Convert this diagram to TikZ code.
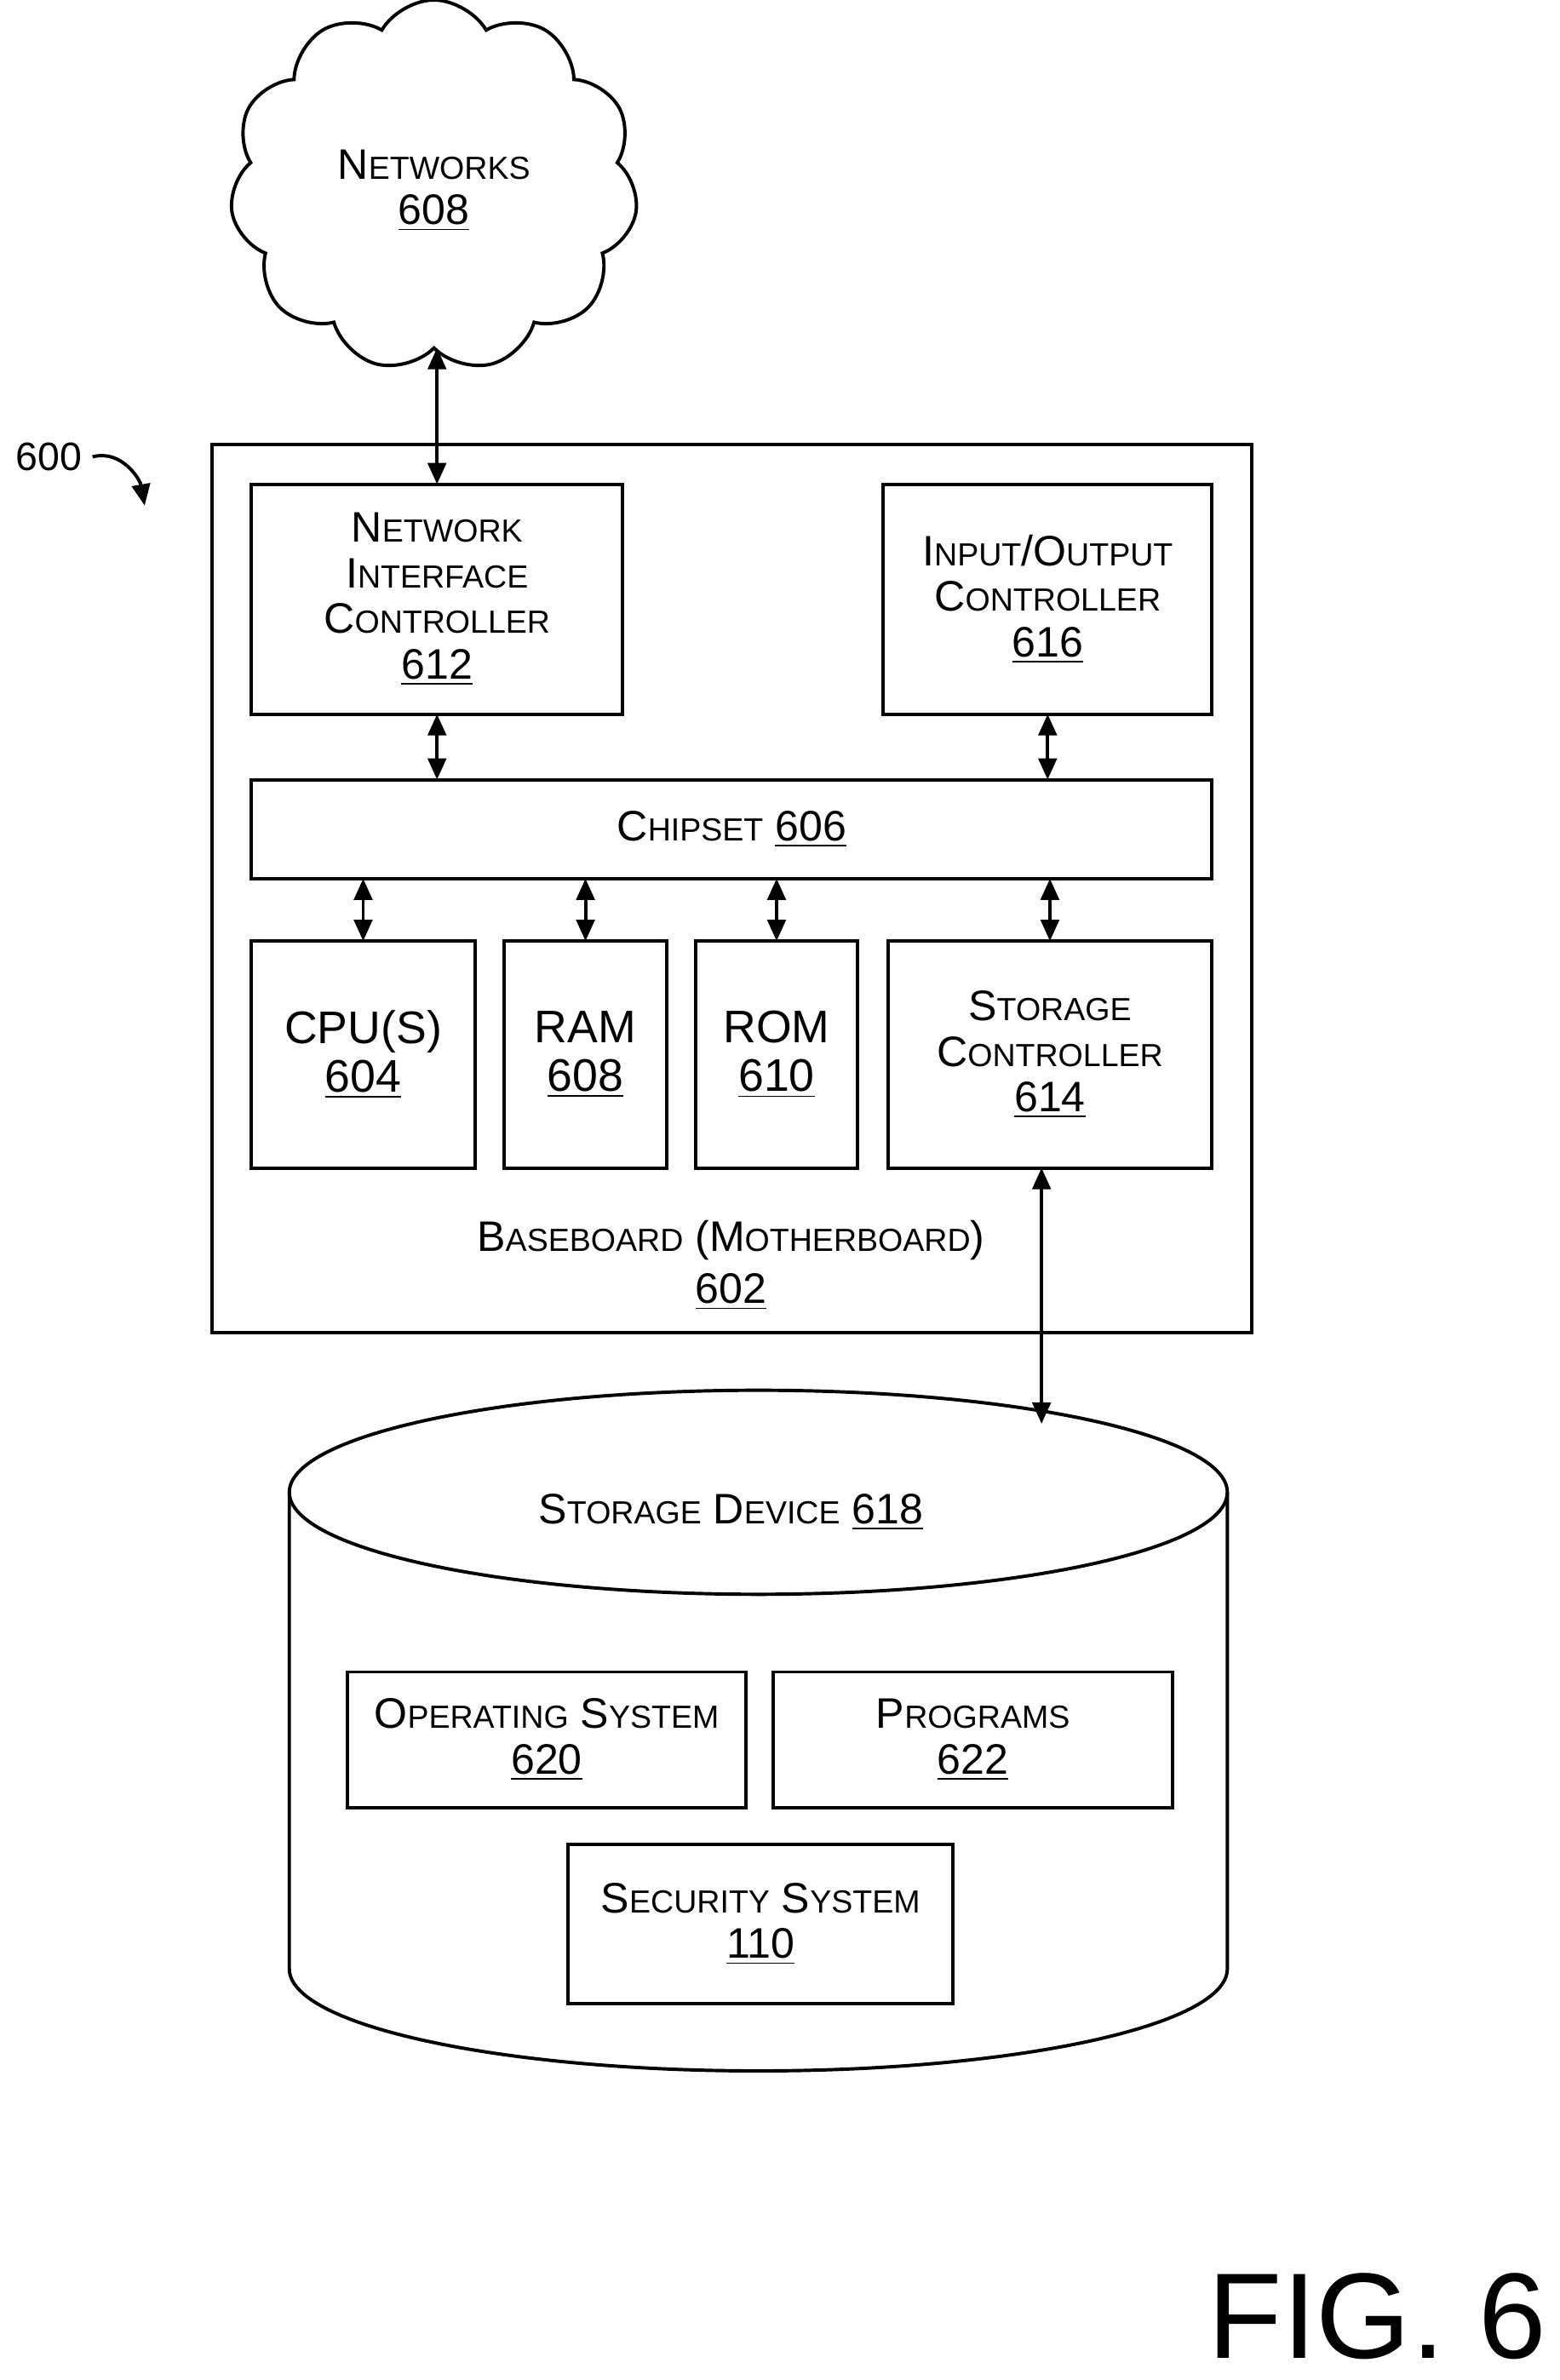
\documentclass[tikz,border=0pt]{standalone}
\usepackage{fontspec}
\setmainfont{Liberation Sans}
\usetikzlibrary{shapes.symbols,arrows.meta}
\newcommand{\sm}[1]{{\fontsize{10.5}{12}\selectfont #1}}
\begin{document}
\begin{tikzpicture}[x=0.5pt,y=-0.5pt,
  box/.style={draw,line width=1.1pt,inner sep=0pt,outer sep=0pt,align=center},
  lbl/.style={align=center,font=\fontsize{14}{17}\selectfont},
  dar/.style={{Triangle[length=7pt,width=6pt]}-{Triangle[length=7pt,width=6pt]},line width=1.1pt},
  every node/.style={font=\fontsize{14}{17}\selectfont}]
\useasboundingbox (0,0) rectangle (1024,1563);
% cloud
\node[cloud,draw,line width=1.1pt,cloud puffs=11,cloud puff arc=120,aspect=1.1,minimum width=134pt,minimum height=122pt,inner sep=0pt,outer sep=0pt] (cloud) at (285,122) {};
\node[lbl] (cloudt) at (285,125) {N\sm{ETWORKS}\\[-2pt]\underline{608}};
% baseboard
\node[box,minimum width=341.5pt,minimum height=291.5pt,anchor=north west] (bb) at (139,292) {};
\node[lbl] (bbt) at (480,831) {B\sm{ASEBOARD} (M\sm{OTHERBOARD})\\[0pt]\underline{602}};
\node[box,minimum width=122pt,minimum height=75.5pt,anchor=north west] (nic) at (165,318) {};
\node[lbl] at (nic.center) {N\sm{ETWORK}\\[-2pt]I\sm{NTERFACE}\\[-2pt]C\sm{ONTROLLER}\\[-2pt]\underline{612}};
\node[box,minimum width=108pt,minimum height=75.5pt,anchor=north west] (io) at (580,318) {};
\node[lbl] at (io.center) {I\sm{NPUT}/O\sm{UTPUT}\\[-2pt]C\sm{ONTROLLER}\\[-2pt]\underline{616}};
\node[box,minimum width=315.5pt,minimum height=32.5pt,anchor=north west] (chip) at (165,512) {};
\node[lbl] at (chip.center) {C\sm{HIPSET} \underline{606}};
\node[box,minimum width=73.5pt,minimum height=74.5pt,anchor=north west] (cpu) at (165,618) {};
\node[lbl,font=\fontsize{15}{18}\selectfont] at (cpu.center) {CPU(S)\\[-2pt]\underline{604}};
\node[box,minimum width=53.5pt,minimum height=74.5pt,anchor=north west] (ram) at (331,618) {};
\node[lbl,font=\fontsize{15}{18}\selectfont] at (ram.center) {RAM\\[-2pt]\underline{608}};
\node[box,minimum width=53pt,minimum height=74.5pt,anchor=north west] (rom) at (457,618) {};
\node[lbl,font=\fontsize{15}{18}\selectfont] at (rom.center) {ROM\\[-2pt]\underline{610}};
\node[box,minimum width=106.5pt,minimum height=74.5pt,anchor=north west] (sc) at (583,618) {};
\node[lbl] at (sc.center) {S\sm{TORAGE}\\[-2pt]C\sm{ONTROLLER}\\[-2pt]\underline{614}};
% arrows
\draw[dar] (nic.north |- cloud.south) -- (nic.north);
\draw[dar] (nic.south) -- (nic.south |- chip.north);
\draw[dar] (io.south) -- (io.south |- chip.north);
\draw[dar] (chip.south -| cpu.north) -- (cpu.north);
\draw[dar] (chip.south -| ram.north) -- (ram.north);
\draw[dar] (chip.south -| rom.north) -- (rom.north);
\draw[dar] (chip.south -| sc.north) -- (sc.north);
% 600
\node (n600) at (32,300) {\fontsize{13}{15}\selectfont 600};
\coordinate (a600) at (95,332);
\draw[-{Triangle[length=7pt,width=6pt]},line width=1.1pt] (n600.east) .. controls (80,295) and (92,315) .. (a600);
% cylinder
\draw[line width=1.1pt,fill=white] (190,980) -- (190,1293) arc[start angle=180,end angle=0,x radius=308,y radius=67] -- (806,980);
\draw[line width=1.1pt] (498,980) ellipse[x radius=308,y radius=67];
\coordinate (cyltop) at (684,935);
\draw[dar] (sc.south -| cyltop) -- (cyltop);
\node[lbl] (sdt) at (480,993) {S\sm{TORAGE} D\sm{EVICE} \underline{618}};
\node[box,minimum width=131pt,minimum height=44.5pt,anchor=north west] (os) at (228,1098) {};
\node[lbl] at (os.center) {O\sm{PERATING} S\sm{YSTEM}\\[-2pt]\underline{620}};
\node[box,minimum width=131pt,minimum height=44.5pt,anchor=north west] (pr) at (508,1098) {};
\node[lbl] at (pr.center) {P\sm{ROGRAMS}\\[-2pt]\underline{622}};
\node[box,minimum width=126.5pt,minimum height=52.5pt,anchor=north west] (sec) at (373,1211) {};
\node[lbl] at (sec.center) {S\sm{ECURITY} S\sm{YSTEM}\\[-2pt]\underline{110}};
\node[anchor=south east,inner sep=0pt] (fig) at (1016,1550) {\fontsize{40}{44}\selectfont FIG. 6};
\end{tikzpicture}
\end{document}
